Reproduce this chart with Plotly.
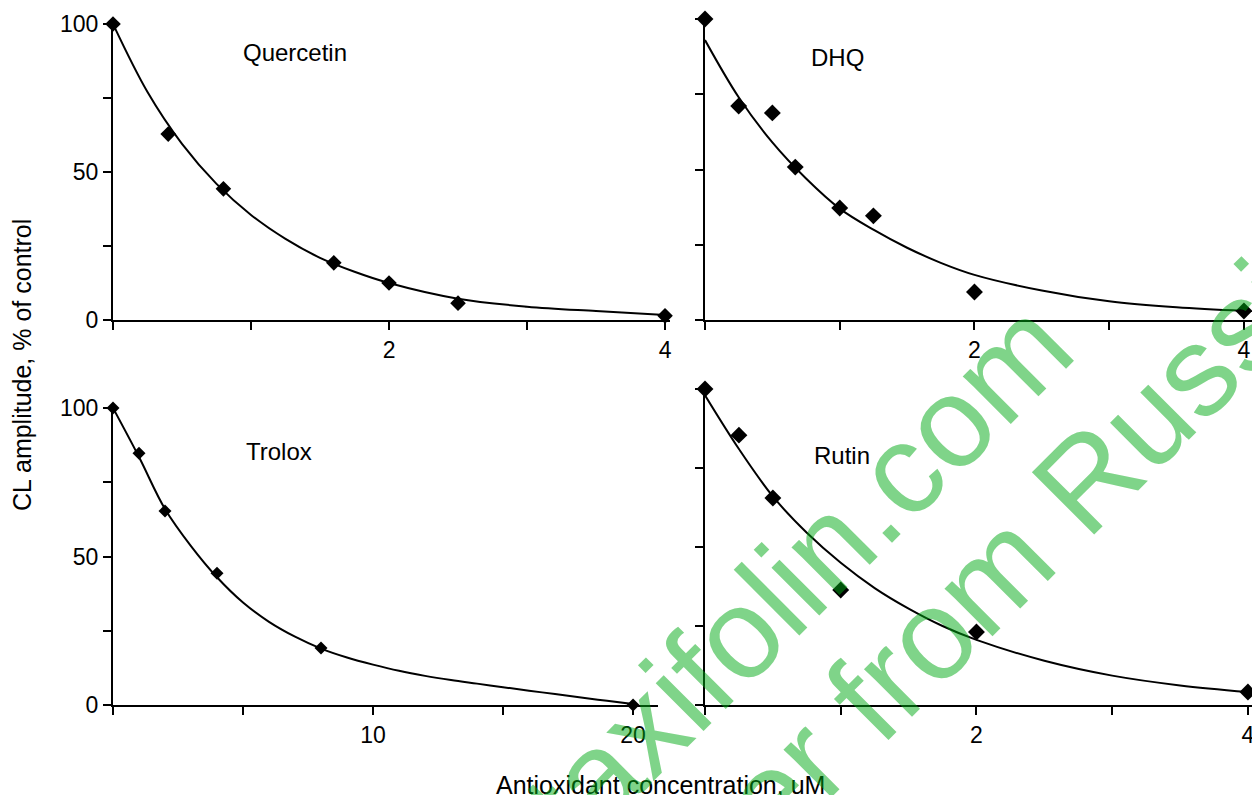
import plotly.graph_objects as go

W, H = 1252, 795

# ---------------- data ----------------
quer_x = [0, 0.4, 0.8, 1.6, 2.0, 2.5, 4.0]
quer_y = [100, 62.8, 44.3, 19.3, 12.5, 5.7, 1.4]
quer_fit_x = [0, 0.25, 0.5, 0.75, 1.0, 1.25, 1.5, 1.75, 2.0, 2.5, 3.0, 3.5, 4.0]
quer_fit_y = [100, 77, 59.5, 46, 35.5, 27.4, 21, 16.3, 12.5, 7.2, 4.5, 3, 1.7]

dhq_x = [0, 0.25, 0.5, 0.67, 1.0, 1.25, 2.0, 4.0]
dhq_y = [100, 71.1, 68.8, 50.8, 37.2, 34.6, 9.3, 3.0]
dhq_fit_x = [0, 0.25, 0.5, 0.75, 1.0, 1.25, 1.5, 1.75, 2.0, 2.5, 3.0, 3.5, 4.0]
dhq_fit_y = [93, 74, 59, 47, 37, 30, 24, 19, 15, 9.8, 6.2, 4.2, 3.0]

trolox_x = [0, 1, 2, 4, 8, 20]
trolox_y = [100, 84.8, 65.3, 44.4, 19.2, 0]
trolox_fit_x = [0, 1, 2, 3, 4, 5, 6, 7, 8, 9, 10, 11, 12, 13, 14, 15, 16, 17, 18, 19, 20]
trolox_fit_y = [100, 83.5, 66, 53.5, 43, 34.5, 28, 23, 19, 16, 13.6, 11.5, 9.8, 8.4, 7.2,
                6, 4.8, 3.7, 2.5, 1.4, 0.3]

rutin_x = [0, 0.25, 0.5, 1.0, 2.0, 4.0]
rutin_y = [100, 85.4, 65.5, 36.4, 23.1, 4.1]
rutin_fit_x = [0, 0.25, 0.5, 0.75, 1.0, 1.25, 1.5, 1.75, 2.0, 2.5, 3.0, 3.5, 4.0]
rutin_fit_y = [98, 81, 66, 54.5, 45, 37, 30.5, 25, 20.6, 14, 9.3, 6.2, 4.1]

panel_names = ["Quercetin", "DHQ", "Trolox", "Rutin"]

y_tickvals = [0, 25, 50, 75, 100]
y_ticktext = ["0", "", "50", "", "100"]
y_ticktext_blank = ["", "", "", "", ""]
x4_tickvals = [0, 1, 2, 3, 4]
x4_ticktext = ["", "", "2", "", "4"]
x20_tickvals = [0, 5, 10, 15, 20]
x20_ticktext = ["", "", "10", "", "20"]

y_title = "CL amplitude, % of control"
x_title = "Antioxidant concentration, uM"
watermark_lines = ["taxifolin.com", "Producer from Russia"]

# ---------------- layout helpers ----------------
FONT = "Liberation Sans, Arial, Helvetica, sans-serif"


def px_x(p):
    return p / W


def px_y(p):
    return 1 - p / H


fig = go.Figure()

series = [
    (quer_x, quer_y, quer_fit_x, quer_fit_y, "x", "y", 12),
    (dhq_x, dhq_y, dhq_fit_x, dhq_fit_y, "x2", "y2", 13),
    (trolox_x, trolox_y, trolox_fit_x, trolox_fit_y, "x3", "y3", 10),
    (rutin_x, rutin_y, rutin_fit_x, rutin_fit_y, "x4", "y4", 13),
]
for px_, py_, fx, fy, xa, ya, ms in series:
    fig.add_trace(go.Scatter(x=fx, y=fy, mode="lines", xaxis=xa, yaxis=ya,
                             line=dict(color="black", width=2, shape="spline", smoothing=1.0),
                             hoverinfo="skip", cliponaxis=False))
    fig.add_trace(go.Scatter(x=px_, y=py_, mode="markers", xaxis=xa, yaxis=ya,
                             marker=dict(symbol="diamond", color="black", size=ms),
                             cliponaxis=False))

common_axis = dict(showgrid=False, zeroline=False, showline=True, linecolor="black",
                   linewidth=2, ticks="outside", ticklen=8, tickwidth=2, tickcolor="black",
                   tickfont=dict(family=FONT, size=23, color="black"), tickmode="array",
                   automargin=False, ticklabeloverflow="allow")

fig.update_layout(
    width=W, height=H, margin=dict(l=0, r=0, t=0, b=0, autoexpand=False),
    paper_bgcolor="white", plot_bgcolor="white", showlegend=False,
    xaxis=dict(common_axis, domain=[px_x(113), px_x(670)], range=[0, 4.036],
               tickvals=x4_tickvals, ticktext=x4_ticktext, anchor="y"),
    yaxis=dict(common_axis, domain=[px_y(320), px_y(24)], range=[0, 100],
               tickvals=y_tickvals, ticktext=y_ticktext, anchor="x"),
    xaxis2=dict(common_axis, domain=[px_x(705), 1.0], range=[0, 4.06],
                tickvals=x4_tickvals, ticktext=x4_ticktext, anchor="y2"),
    yaxis2=dict(common_axis, domain=[px_y(320), px_y(19)], range=[0, 100],
                tickvals=y_tickvals, ticktext=y_ticktext_blank, anchor="x2"),
    xaxis3=dict(common_axis, domain=[px_x(113), px_x(658)], range=[0, 20.96],
                tickvals=x20_tickvals, ticktext=x20_ticktext, anchor="y3"),
    yaxis3=dict(common_axis, domain=[px_y(705), px_y(408)], range=[0, 100],
                tickvals=y_tickvals, ticktext=y_ticktext, anchor="x3"),
    xaxis4=dict(common_axis, domain=[px_x(705), 1.0], range=[0, 4.03],
                tickvals=x4_tickvals, ticktext=x4_ticktext, anchor="y4"),
    yaxis4=dict(common_axis, domain=[px_y(705), px_y(389)], range=[0, 100],
                tickvals=y_tickvals, ticktext=y_ticktext_blank, anchor="x4"),
)

# panel labels
label_pos = [(241, 53), (809, 58), (244, 451), (812, 455)]
for name, (lx, ly) in zip(panel_names, label_pos):
    fig.add_annotation(text=name, xref="paper", yref="paper", x=px_x(lx), y=px_y(ly),
                       xanchor="left", yanchor="middle", showarrow=False,
                       font=dict(family=FONT, size=24, color="black"))

# axis titles
fig.add_annotation(text=y_title, xref="paper", yref="paper", x=px_x(22), y=px_y(365),
                   textangle=-90, showarrow=False, xanchor="center", yanchor="middle",
                   font=dict(family=FONT, size=25, color="black"))
fig.add_annotation(text=x_title, xref="paper", yref="paper", x=px_x(661), y=px_y(785),
                   showarrow=False, xanchor="center", yanchor="middle",
                   font=dict(family=FONT, size=25, color="black"))

# watermark
wm_pos = [(796, 575), (894, 671)]
for txt, (wx, wy) in zip(watermark_lines, wm_pos):
    fig.add_annotation(text=txt, xref="paper", yref="paper", x=px_x(wx), y=px_y(wy),
                       textangle=-45, showarrow=False, xanchor="center", yanchor="middle",
                       font=dict(family=FONT, size=128, color="rgba(0,170,20,0.5)"))

fig.write_html("out.html", config={"displayModeBar": False},
               post_script="document.body.style.margin='0px';document.body.style.overflow='hidden';")
